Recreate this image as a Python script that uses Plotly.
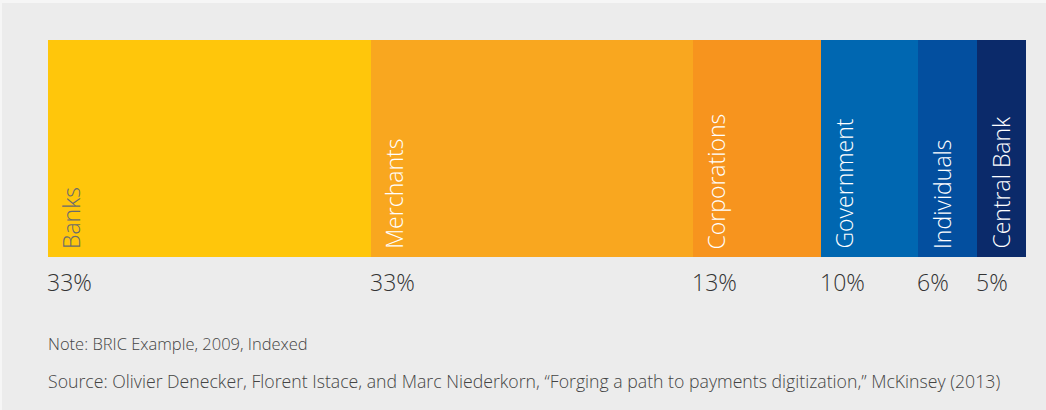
import plotly.graph_objects as go

categories = ["Banks", "Merchants", "Corporations", "Government", "Individuals", "Central Bank"]
values = [33, 33, 13, 10, 6, 5]
pct_labels = ["33%", "33%", "13%", "10%", "6%", "5%"]
colors = ["#FFC60B", "#F9A71F", "#F7941E", "#0067B1", "#034F9F", "#0B2A6A"]
label_colors = ["#6b6b6b", "#ffffff", "#ffffff", "#ffffff", "#ffffff", "#ffffff"]
note_text = "Note: BRIC Example, 2009, Indexed"
source_text = ("Source: Olivier Denecker, Florent Istace, and Marc Niederkorn, "
               "\u201cForging a path to payments digitization,\u201d McKinsey (2013)")

W, H = 1046, 410
L, R, T, B = 48, 20, 40, 153
pw, ph = W - L - R, H - T - B

fig = go.Figure()
for cat, v, c in zip(categories, values, colors):
    fig.add_trace(go.Bar(
        x=[v], y=[0], orientation="h", name=cat,
        marker=dict(color=c, line=dict(width=0)),
        hoverinfo="name+x", showlegend=False,
    ))

font_fam = "Open Sans"
annotations = []
start = 0
for cat, v, lc, pl in zip(categories, values, label_colors, pct_labels):
    annotations.append(dict(
        x=start, y=0, xref="x", yref="paper", text=cat, textangle=-90,
        xanchor="left", yanchor="bottom", xshift=5, yshift=6, showarrow=False,
        font=dict(family=font_fam, size=23, color=lc, weight=300),
    ))
    annotations.append(dict(
        x=start, y=-25 / ph, xref="x", yref="paper", text=pl,
        xanchor="left", yanchor="middle", xshift=-3, showarrow=False,
        font=dict(family=font_fam, size=23, color="#333333", weight=300),
    ))
    start += v

annotations.append(dict(
    x=0, y=-(343 - 257) / ph, xref="paper", yref="paper", text=note_text,
    xanchor="left", yanchor="middle", xshift=-2, showarrow=False,
    font=dict(family=font_fam, size=16.5, color="#444444", weight=300),
))
annotations.append(dict(
    x=0, y=-(381 - 257) / ph, xref="paper", yref="paper", text=source_text,
    xanchor="left", yanchor="middle", xshift=-2, showarrow=False,
    font=dict(family=font_fam, size=17.7, color="#444444", weight=300),
))

shapes = [
    dict(type="rect", xref="paper", yref="paper", layer="below",
         x0=-(L - 2) / pw, x1=1 + (R + 1) / pw,
         y0=-(B + 1) / ph, y1=1 + (T - 3) / ph,
         fillcolor="#ececec", line=dict(width=0)),
]

fig.update_layout(
    width=W, height=H,
    margin=dict(l=L, r=R, t=T, b=B),
    paper_bgcolor="#f6f6f6", plot_bgcolor="#ececec",
    barmode="stack", bargap=0,
    xaxis=dict(range=[0, sum(values)], visible=False, fixedrange=True),
    yaxis=dict(range=[-0.5, 0.5], visible=False, fixedrange=True),
    annotations=annotations, shapes=shapes,
)

fig.write_html(
    "out.html",
    config={"displayModeBar": False},
    post_script="document.body.style.margin='0';document.body.style.overflow='hidden';",
)
